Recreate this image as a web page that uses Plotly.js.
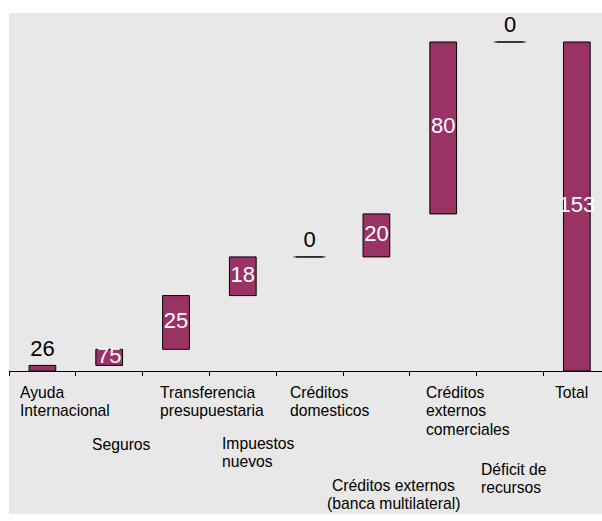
<!DOCTYPE html>
<html>
<head>
<meta charset="utf-8">
<script src="https://cdn.plot.ly/plotly-3.0.1.min.js"></script>
<style>html,body{margin:0;padding:0;background:#fff;}#chart{width:602px;height:521px;}</style>
</head>
<body>
<div id="chart"></div>
<script>
// ---- data ----
const categories = ["Ayuda Internacional", "Seguros", "Transferencia presupuestaria", "Impuestos nuevos",
  "Créditos domesticos", "Créditos externos (banca multilateral)", "Créditos externos comerciales",
  "Déficit de recursos", "Total"];
const tickLabels = ["Ayuda<br>Internacional", "Seguros", "Transferencia<br>presupuestaria", "Impuestos<br>nuevos",
  "Créditos<br>domesticos", "Créditos externos<br>(banca multilateral)", "Créditos<br>externos<br>comerciales",
  "Déficit de<br>recursos", "Total"];
const stepValues = [2.6, 7.5, 25, 18, 0, 20, 80, 0];
const totalValue = 153.1;
const valueLabels = ["26", "75", "25", "18", "0", "20", "80", "0", "153"];

// ---- layout helpers (positions/styles, not data) ----
const PLOT_TOP = 13, PLOT_BOTTOM = 371, PLOT_H = PLOT_BOTTOM - PLOT_TOP;
const LINE_STEP = 18.5;
const labelPlacement = [
  {dx: -0.365, mid: 392, anchor: "left"},
  {dx: -0.287, mid: 444, anchor: "left"},
  {dx: -0.27, mid: 392, anchor: "left"},
  {dx: -0.34, mid: 443, anchor: "left"},
  {dx: -0.323, mid: 392, anchor: "left"},
  {dx: 0.256, mid: 485, anchor: "center"},
  {dx: -0.287, mid: 392, anchor: "left"},
  {dx: -0.464, mid: 469, anchor: "left"},
  {dx: -0.356, mid: 392, anchor: "left"}
];

// build waterfall geometry from data
const xs = categories.map((c, i) => i);
const heights = [], bases = [];
let cum = 0;
stepValues.forEach(v => { bases.push(cum); heights.push(v); cum += v; });
bases.push(0); heights.push(totalValue);

const barColor = "#993366";
const FONT = "Liberation Sans, Arial, sans-serif";

const barTrace = {
  type: "bar", x: xs, y: heights, base: bases, width: 0.4,
  marker: {color: barColor, line: {color: "#000", width: 1}},
  hoverinfo: "skip", showlegend: false
};

const zx = [], zy = [];
heights.forEach((h, i) => { if (h === 0) { zx.push(i); zy.push(bases[i]); } });
const zeroTrace = {
  type: "scatter", mode: "markers", x: zx, y: zy,
  marker: {symbol: "line-ew", size: 23, line: {color: "#333", width: 1}},
  hoverinfo: "skip", showlegend: false
};

const inX = [], inY = [], inT = [], outX = [], outY = [], outT = [];
heights.forEach((h, i) => {
  if (h < 5) { outX.push(i); outY.push(bases[i] + h); outT.push(valueLabels[i]); }
  else { inX.push(i); inY.push(bases[i] + h / 2); inT.push(valueLabels[i]); }
});
const inText = {
  type: "scatter", mode: "text", x: inX, y: inY, text: inT, textposition: "middle center",
  textfont: {family: FONT, size: 22, color: "#fff"}, hoverinfo: "skip", showlegend: false, cliponaxis: false
};
const outText = {
  type: "scatter", mode: "markers+text", x: outX, y: outY, text: outT, textposition: "top center",
  marker: {size: 5, color: "rgba(0,0,0,0)"},
  textfont: {family: FONT, size: 22, color: "#000"}, hoverinfo: "skip", showlegend: false, cliponaxis: false
};

const annotations = [];
tickLabels.forEach((t, i) => {
  const p = labelPlacement[i];
  t.split("<br>").forEach((line, k) => {
    annotations.push({
      text: line, x: i + p.dx, xref: "x",
      y: (PLOT_BOTTOM - (p.mid + k * LINE_STEP)) / PLOT_H, yref: "paper",
      xanchor: p.anchor, yanchor: "middle", align: p.anchor,
      showarrow: false, font: {family: FONT, size: 15.7, color: "#000"}
    });
  });
});

const layout = {
  width: 602, height: 521,
  margin: {l: 9, r: 0, t: PLOT_TOP, b: 521 - PLOT_BOTTOM, pad: 0},
  paper_bgcolor: "#ffffff", plot_bgcolor: "#e8e8e8",
  showlegend: false, hovermode: false,
  xaxis: {
    range: [-0.5, 8.377], showgrid: false, zeroline: false,
    showline: true, linecolor: "#000", linewidth: 1,
    tickmode: "array", tickvals: categories.map((c, i) => i - 0.5),
    ticks: "outside", ticklen: 4, tickcolor: "#000", tickwidth: 1, showticklabels: false
  },
  yaxis: {range: [0, 166.6], showgrid: false, zeroline: false, showticklabels: false, showline: false, ticks: ""},
  shapes: [{
    type: "rect", xref: "paper", yref: "paper", x0: 0, x1: 1,
    y0: (PLOT_BOTTOM - 514) / PLOT_H, y1: 1,
    fillcolor: "#e8e8e8", line: {width: 0}, layer: "below"
  }],
  annotations: annotations
};

Plotly.newPlot("chart", [barTrace, zeroTrace, inText, outText], layout, {displayModeBar: false, staticPlot: true});
</script>
</body>
</html>
